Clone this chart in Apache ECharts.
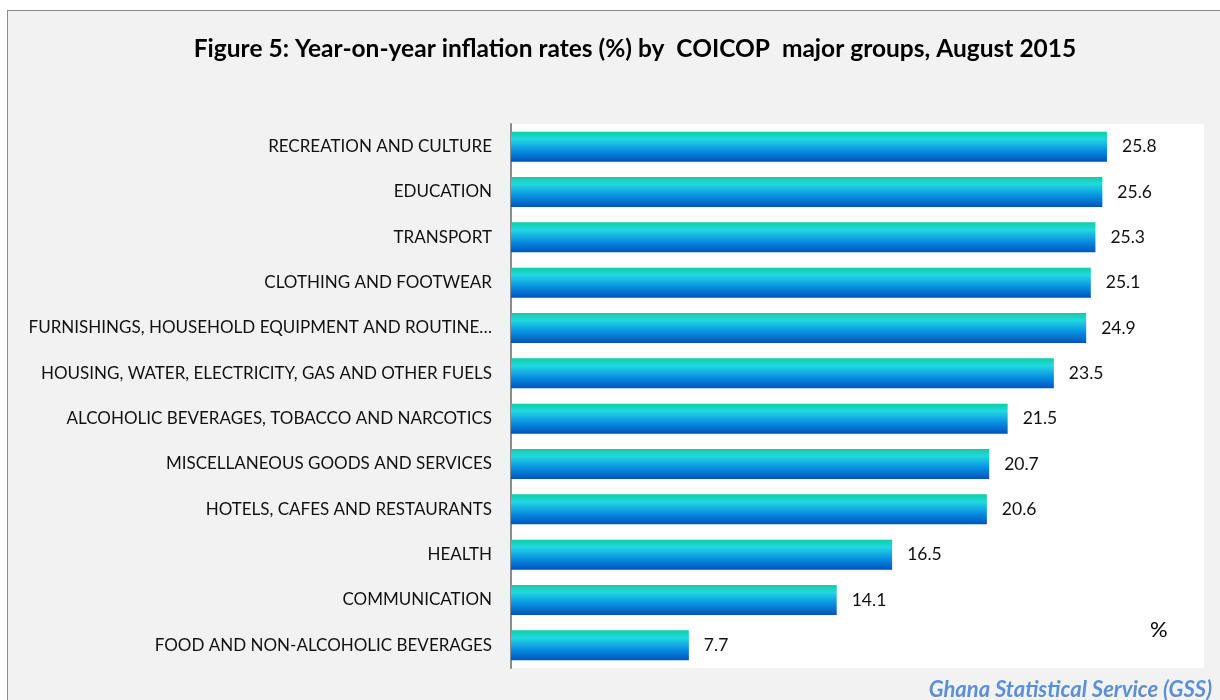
<!DOCTYPE html>
<html><head><meta charset="utf-8">
<script src="https://cdn.jsdelivr.net/npm/echarts@6/dist/echarts.min.js"></script>
<style>
html,body{margin:0;padding:0;background:#fff;}
#frame{position:absolute;left:7px;top:10px;width:1240px;height:720px;background:#f2f2f2;border:1px solid #8c8c8c;}
#chart{position:absolute;left:0;top:0;width:1220px;height:700px;}
</style></head>
<body><div id="frame"></div><div id="chart"></div>
<script>
const categories = [
  "RECREATION AND CULTURE",
  "EDUCATION",
  "TRANSPORT",
  "CLOTHING AND FOOTWEAR",
  "FURNISHINGS, HOUSEHOLD EQUIPMENT AND ROUTINE\u2026",
  "HOUSING, WATER, ELECTRICITY, GAS AND OTHER FUELS",
  "ALCOHOLIC BEVERAGES, TOBACCO AND NARCOTICS",
  "MISCELLANEOUS GOODS AND SERVICES",
  "HOTELS, CAFES AND RESTAURANTS",
  "HEALTH",
  "COMMUNICATION",
  "FOOD AND NON-ALCOHOLIC BEVERAGES"
];
const values = [25.8, 25.6, 25.3, 25.1, 24.9, 23.5, 21.5, 20.7, 20.6, 16.5, 14.1, 7.7];
const titleText = "Figure 5: Year-on-year inflation rates (%) by  COICOP  major groups, August 2015";
const unitText = "%";
const sourceText = "Ghana Statistical Service (GSS)";

const chart = echarts.init(document.getElementById('chart'), null, {renderer:'canvas'});
const font = 'Lato, "Open Sans", sans-serif';
chart.setOption({
  backgroundColor: 'transparent',
  animation: false,
  title: {
    text: titleText, left: 630, textAlign: 'center', top: 32,
    textStyle: {fontFamily: font, fontSize: 24.5, fontWeight: 'bold', color: '#000'}
  },
  graphic: [
    {type:'rect', z:-1, shape:{x:511, y:124, width:693, height:544}, style:{fill:'#fff'}},
    {type:'text', left: 1150, top: 619, style:{text: unitText, font: '22px ' + font, fill:'#000'}},
    {type:'text', right: 8, top: 679, style:{text: sourceText, font: 'italic bold 22px ' + font, fill:'#5b8fd6'}}
  ],
  grid: {left: 511, right: 16, top: 124, bottom: 32, containLabel: false},
  xAxis: {type:'value', min:0, max:30, show:false},
  yAxis: {
    type:'category', data: categories, inverse: true,
    axisLine: {show:true, lineStyle:{color:'#8c8c8c', width:2}},
    axisTick: {show:false},
    axisLabel: {fontFamily: font, fontSize: 17, color:'#111', margin: 19, padding: [3, 0, 0, 0]}
  },
  series: [{
    type:'bar', data: values, barCategoryGap: '34%',
    itemStyle: {color: new echarts.graphic.LinearGradient(0,0,0,1,[
      {offset:0, color:'#0acfa6'},
      {offset:0.25, color:'#22d8e0'},
      {offset:0.6, color:'#0a96e2'},
      {offset:1, color:'#0052bf'}
    ])},
    label: {show:true, position:'right', distance: 15, fontFamily: font, fontSize: 17.5, color:'#111'}
  }]
});
</script></body></html>
